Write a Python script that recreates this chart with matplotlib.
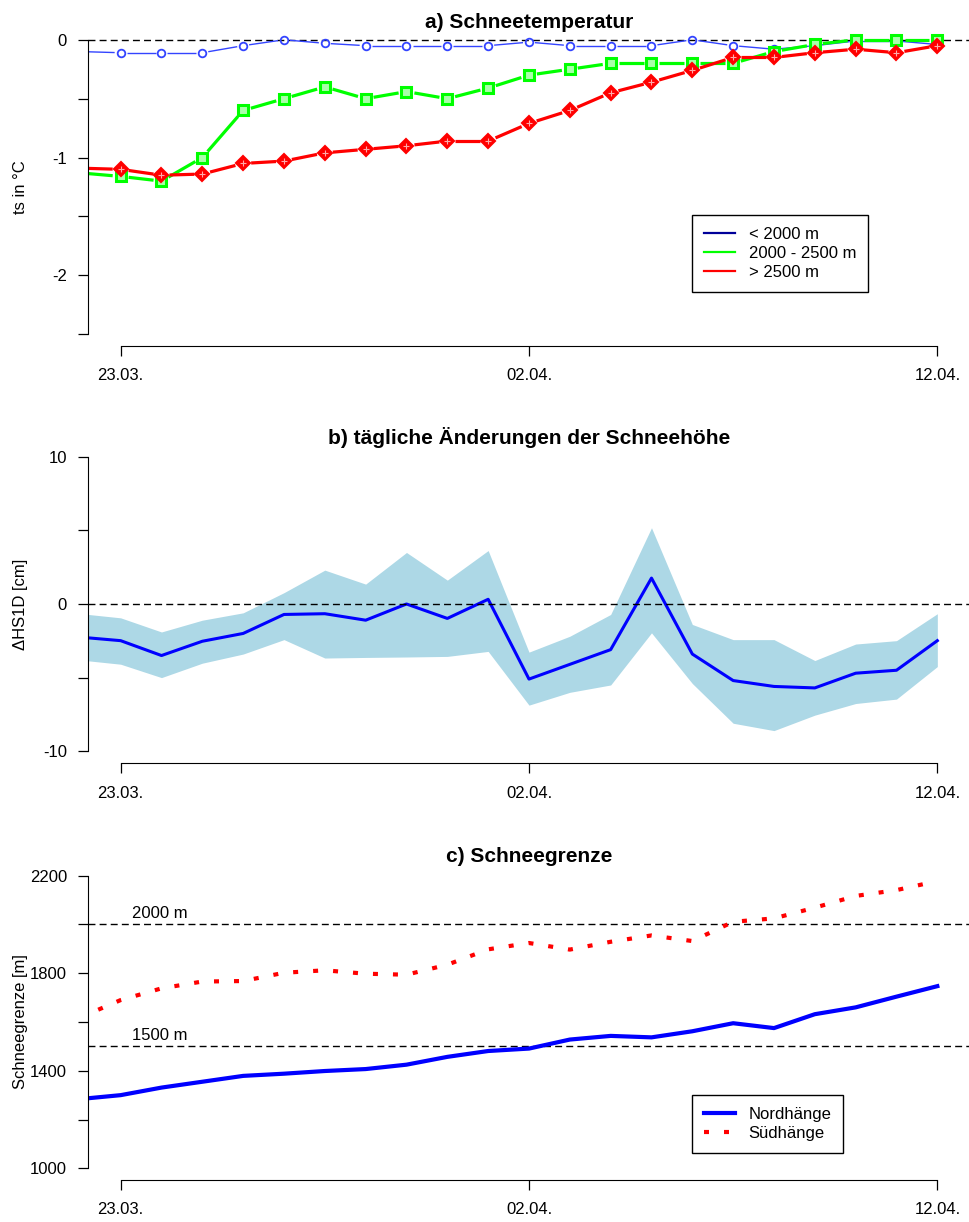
import numpy as np
import matplotlib
matplotlib.use("Agg")
import matplotlib.pyplot as plt
from matplotlib.collections import LineCollection

plt.rcParams['font.family'] = ['Liberation Sans', 'DejaVu Sans']
plt.rcParams['axes.unicode_minus'] = False

# days relative to 23.03. (22.03. = -1 ... 12.04. = 20)
days = np.arange(-1, 21)
tick_days = [0, 10, 20]
tick_labels = ['23.03.', '02.04.', '12.04.']

# a) Schneetemperatur
ts_low = [-0.10, -0.11, -0.11, -0.11, -0.05, 0.0, -0.03, -0.05, -0.05, -0.05, -0.05,
          -0.02, -0.05, -0.05, -0.05, 0.0, -0.05, -0.08, -0.05, -0.01, -0.01, -0.04]
ts_mid = [-1.13, -1.16, -1.20, -1.00, -0.60, -0.50, -0.40, -0.50, -0.44, -0.50, -0.41,
          -0.30, -0.25, -0.20, -0.20, -0.20, -0.20, -0.10, -0.04, 0.0, 0.0, 0.0]
ts_high = [-1.09, -1.10, -1.15, -1.14, -1.05, -1.03, -0.96, -0.93, -0.90, -0.86, -0.86,
           -0.71, -0.60, -0.45, -0.36, -0.26, -0.15, -0.15, -0.11, -0.08, -0.11, -0.05]

# b) taegliche Aenderungen der Schneehoehe
dhs_mean = [-2.25, -2.49, -3.5, -2.53, -2.0, -0.71, -0.66, -1.1, 0.0, -0.98, 0.32,
            -5.1, -4.1, -3.1, 1.76, -3.4, -5.2, -5.6, -5.7, -4.7, -4.5, -2.49]
dhs_upper = [-0.65, -0.94, -1.9, -1.1, -0.6, 0.77, 2.3, 1.35, 3.5, 1.62, 3.63,
             -3.27, -2.19, -0.71, 5.18, -1.39, -2.42, -2.42, -3.84, -2.72, -2.49, -0.66]
dhs_lower = [-3.80, -4.09, -5.0, -4.02, -3.4, -2.42, -3.67, -3.63, -3.6, -3.56, -3.22,
             -6.87, -6.0, -5.5, -1.96, -5.4, -8.1, -8.6, -7.55, -6.76, -6.46, -4.25]

# c) Schneegrenze
sg_nord = [1284, 1300, 1331, 1355, 1379, 1388, 1399, 1407, 1425, 1457, 1481,
           1491, 1528, 1543, 1537, 1562, 1595, 1575, 1632, 1660, 1704, 1747]
sg_sued = [1618, 1690, 1738, 1766, 1768, 1802, 1812, 1798, 1794, 1835, 1898,
           1924, 1897, 1929, 1955, 1932, 2011, 2025, 2069, 2117, 2141, 2178]

W, H = 970, 1222
fig = plt.figure(figsize=(W / 100, H / 100), dpi=100)


def px_axes(top, bottom):
    return fig.add_axes([88 / W, 1 - bottom / H, 882 / W, (bottom - top) / H])


def r_style(ax, ylo, yhi, ylab):
    for s in ['top', 'right']:
        ax.spines[s].set_visible(False)
    ax.spines['left'].set_bounds(ylo, yhi)
    ax.spines['bottom'].set_bounds(0, 20)
    ax.set_xlim(-0.8, 20.8)
    ax.set_xticks(tick_days)
    ax.set_xticklabels(tick_labels)
    ax.tick_params(which='both', direction='out', length=7.2, width=0.9, labelsize=12)
    ax.tick_params(axis='x', pad=9)
    ax.tick_params(axis='y', pad=8)
    ax.set_ylabel(ylab, fontsize=12)
    ax.yaxis.set_label_coords(-0.068, 0.5)


def type_b(ax, x, y, gap, **kw):
    # lines with gaps around the points (like R type="b")
    pts = ax.transData.transform(np.column_stack([x, y]))
    inv = ax.transData.inverted()
    segs = []
    for p, q in zip(pts[:-1], pts[1:]):
        d = q - p
        L = np.hypot(*d)
        if L <= 2 * gap:
            continue
        u = d / L
        segs.append(inv.transform(np.array([p + u * gap, q - u * gap])))
    ax.add_collection(LineCollection(segs, **kw))


# ---------- a) ----------
ax1 = px_axes(28, 346)
ax1.set_ylim(-2.6, 0.1)
r_style(ax1, -2.5, 0, 'ts in °C')
ax1.set_yticks([-2, -1, 0])
ax1.set_yticks([-2.5, -1.5, -0.5], minor=True)
ax1.axhline(0, color='black', lw=1, ls=(0, (5, 3)))

type_b(ax1, days, ts_low, 6, colors='#3344ff', linewidths=1.0)
ax1.plot(days, ts_low, ls='none', marker='o', ms=5.5, mfc='none', mec='#3344ff', mew=1.3)
type_b(ax1, days, ts_mid, 8, colors='#00ff00', linewidths=2.3)
ax1.plot(days, ts_mid, ls='none', marker='s', ms=6.5, mfc='#aaffaa', mec='#00ff00', mew=2.2)
type_b(ax1, days, ts_high, 8, colors='#ff0000', linewidths=2.3)
ax1.plot(days, ts_high, ls='none', marker='D', ms=7, mfc='#ff0000', mec='#ff0000', mew=1.5)
ax1.plot(days, ts_high, ls='none', marker='+', ms=4, mec='#ffaaaa', mew=0.8)

h1 = [plt.Line2D([], [], color='#000099', lw=1.6),
      plt.Line2D([], [], color='#00ff00', lw=1.6),
      plt.Line2D([], [], color='#ff0000', lw=1.6)]
leg1 = ax1.legend(h1, ['< 2000 m', '2000 - 2500 m', '> 2500 m'], loc='upper left',
                  bbox_to_anchor=(692 / W, 1 - 215 / H), bbox_transform=fig.transFigure,
                  fontsize=12, frameon=True, fancybox=False, framealpha=1, edgecolor='black',
                  borderaxespad=0, borderpad=0.7, labelspacing=0.25, handlelength=1.9,
                  handletextpad=0.8)
leg1.get_frame().set_linewidth(1.0)
fig.text(529 / W, 1 - 22 / H, 'a) Schneetemperatur', ha='center', va='center',
         fontsize=15, fontweight='bold')

# ---------- b) ----------
ax2 = px_axes(445, 763)
ax2.set_ylim(-10.8, 10.8)
r_style(ax2, -10, 10, 'ΔHS1D [cm]')
ax2.set_yticks([-10, 0, 10])
ax2.set_yticks([-5, 5], minor=True)
ax2.fill_between(days, dhs_lower, dhs_upper, color='#add8e6', lw=0)
ax2.plot(days, dhs_mean, color='#0000ff', lw=2.2)
ax2.axhline(0, color='black', lw=1, ls=(0, (5, 3)))
fig.text(529 / W, 1 - 438 / H, 'b) tägliche Änderungen der Schneehöhe', ha='center',
         va='center', fontsize=15, fontweight='bold')

# ---------- c) ----------
ax3 = px_axes(864, 1180)
ax3.set_ylim(952, 2248)
r_style(ax3, 1000, 2200, 'Schneegrenze [m]')
ax3.set_yticks([1000, 1400, 1800, 2200])
ax3.set_yticks([1200, 1600, 2000], minor=True)
ax3.axhline(2000, color='black', lw=1, ls=(0, (5, 3)))
ax3.axhline(1500, color='black', lw=1, ls=(0, (5, 3)))
ax3.text(0.28, 2045, '2000 m', fontsize=12, va='center', ha='left')
ax3.text(0.28, 1545, '1500 m', fontsize=12, va='center', ha='left')
ax3.plot(days, sg_nord, color='#0000ff', lw=3, label='Nordhänge')
ax3.plot(days, sg_sued, color='#ff0000', lw=3, ls=(0, (1.2, 3.6)), label='Südhänge')
leg3 = ax3.legend(loc='upper left', bbox_to_anchor=(692 / W, 1 - 1095 / H),
                  bbox_transform=fig.transFigure, fontsize=12, frameon=True, fancybox=False,
                  framealpha=1, edgecolor='black', borderaxespad=0, borderpad=0.7,
                  labelspacing=0.25, handlelength=1.9, handletextpad=0.8)
leg3.get_frame().set_linewidth(1.0)
fig.text(529 / W, 1 - 857 / H, 'c) Schneegrenze', ha='center', va='center',
         fontsize=15, fontweight='bold')

fig.savefig('out.png', dpi=100)
